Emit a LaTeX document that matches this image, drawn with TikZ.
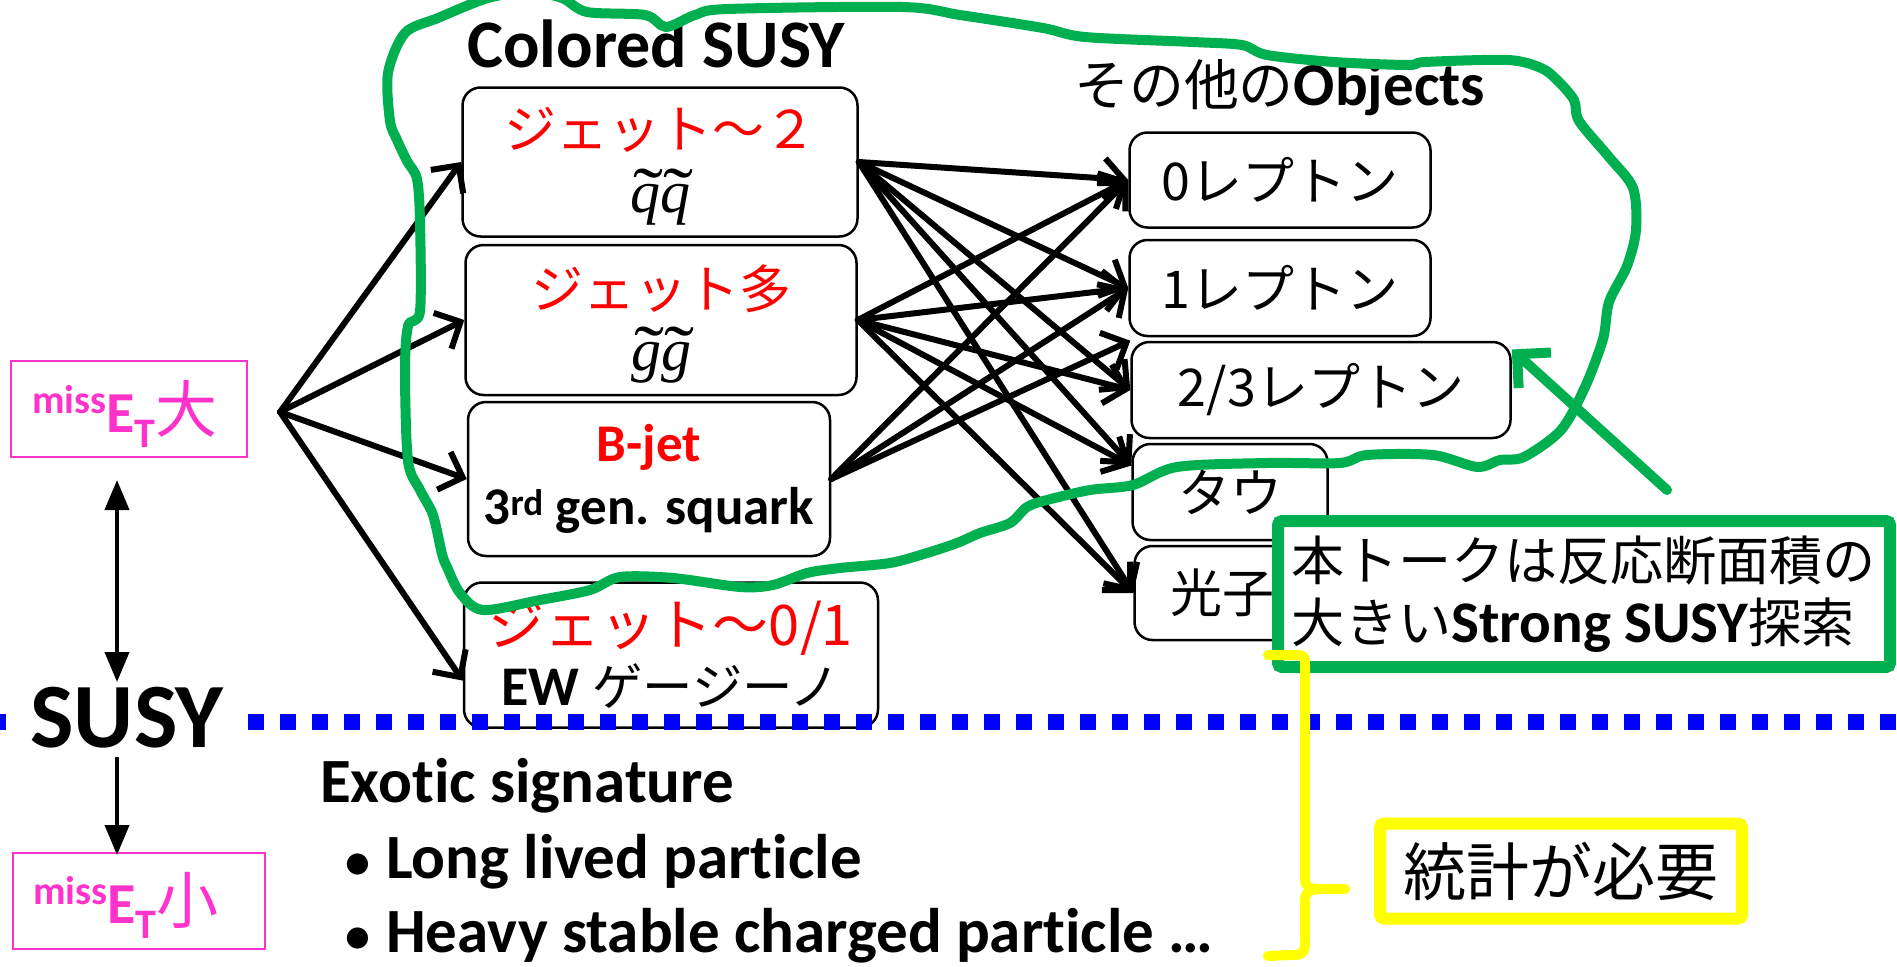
\documentclass[tikz,border=0pt]{standalone}
\usepackage{graphicx}
\usepackage{fontspec}
\setmainfont{Carlito}[Ligatures=NoCommon]
\newfontfamily\jp{Noto Sans CJK JP}
\newfontfamily\jpm{Noto Sans CJK JP}[Scale=0.9]
\newfontfamily\serif{Liberation Serif}
\usetikzlibrary{arrows.meta}

\definecolor{metpink}{RGB}{255,51,204}
\definecolor{gloop}{RGB}{0,176,80}
\definecolor{ylw}{RGB}{255,255,0}

\newcommand{\fs}[1]{\fontsize{#1}{#1}\selectfont}
% missing E_T label
\newcommand{\metlabel}[1]{\bfseries\raisebox{19pt}{\fs{40}miss}{\fs{58}E}\raisebox{-15pt}{\fs{42}T}{\jp\mdseries\fs{62}#1}}
% sparticle with a wide tilde
\newcommand{\spart}[1]{\ooalign{\serif\itshape #1\cr\hidewidth\kern0.12em\raisebox{-0.08em}{\scalebox{1.5}[1.2]{\serif\char"02DC}}\hidewidth\cr}}

\begin{document}
\begin{tikzpicture}[x=1pt, y=-1pt,
    barb/.tip={Straight Barb[length=20pt,width=40pt]},
    tri/.tip={Triangle[length=30pt,width=24pt]},
    box/.style={draw, line width=2.5pt, rounded corners=18pt, inner sep=0pt, align=center},
    metbox/.style={draw=metpink, line width=2pt, inner sep=0pt, minimum height=96pt},
    txt/.style={inner sep=0pt, anchor=base west},
    flow/.style={line width=6pt, line cap=round, -barb},
    vert/.style={line width=4pt, -tri},
    hand/.style={draw=gloop, line width=10pt, line cap=round, line join=round}
  ]
  \useasboundingbox (0,0) rectangle (1897,966);

  % --- MET boxes ---
  \node[metbox, minimum width=236pt] (metbig) at (129,409) {};
  \node[txt, text=metpink] (metbigtxt) at (32,432) {\metlabel{大}};
  \node[metbox, minimum width=252pt] (metsmall) at (139,901) {};
  \node[txt, text=metpink] (metsmalltxt) at (33,923) {\metlabel{小}};

  % --- Colored SUSY ---
  \node[txt, font=\bfseries\fs{68}] (colored) at (467,67) {Colored SUSY};
  \node[box, minimum width=395pt, minimum height=149pt, font=\jp\fontsize{52}{64}\selectfont] (sq) at (660,162)
    {\textcolor{red}{ジェット～２}\\{\fs{60}\spart{q}\spart{q}}};
  \node[box, minimum width=391pt, minimum height=150pt, font=\jp\fontsize{52}{62}\selectfont] (gl) at (661,320)
    {\textcolor{red}{ジェット多}\\{\fs{60}\spart{g}\spart{g}}};
  \node[box, minimum width=362pt, minimum height=154pt, font=\bfseries\fontsize{53}{63}\selectfont] (bjet) at (649,479)
    {\textcolor{red}{B-jet}\\3\textsuperscript{rd} gen. squark};
  \node[box, minimum width=414pt, minimum height=145pt, font=\fontsize{56}{60}\selectfont] (ew) at (671,655)
    {\textcolor{red}{\jp ジェット～0/1}\\\textbf{EW} {\jpm ゲージーノ}};

  % --- other objects ---
  \node[txt, font=\fs{61}] (others) at (1074,105) {{\jpm その他の}\textbf{Objects}};
  \node[box, minimum width=301pt, minimum height=95pt, font=\jp\fs{52}] (lep0) at (1280,180) {0レプトン};
  \node[box, minimum width=301pt, minimum height=96pt, font=\jp\fs{52}] (lep1) at (1280,288) {1レプトン};
  \node[box, minimum width=379pt, minimum height=96pt, font=\jp\fs{52}] (lep23) at (1321,390) {2/3レプトン};
  \node[box, minimum width=195pt, minimum height=96pt, font=\jp\fs{52}] (tau) at (1230,492) {タウ};
  \node[box, minimum width=175pt, minimum height=94pt, font=\jp\fs{52}] (pho) at (1222,593) {光子};

  % --- arrows ---
  \coordinate (fanpt) at (280,412);
  \foreach \b/\a in {sq/180, gl/180, bjet/180, ew/187}
    \draw[flow] (fanpt) -- (\b.\a);
  \foreach \s in {sq, gl}
    \foreach \t/\a in {lep0/west, lep1/west, lep23/west, tau/165, pho/west}
      \draw[flow] (\s.east) -- (\t.\a);
  \foreach \t/\a in {lep0/west, lep1/west, lep23/north west}
    \draw[flow] (bjet.east) -- (\t.\a);

  % --- SUSY line ---
  \draw[blue, line width=16pt, dash pattern=on 16pt off 16pt, dash phase=8pt] (0,722) -- (1897,722);
  \node[fill=white, inner xsep=24pt, inner ysep=4pt, anchor=base, font=\bfseries\fs{92}] (susy) at (127,747) {SUSY};
  \coordinate (bigtip) at (117,480);
  \coordinate (susytop) at (117,682);
  \coordinate (susybot) at (117,757);
  \coordinate (smalltip) at (117,855);
  \draw[vert, tri-tri] (bigtip) -- (susytop);
  \draw[vert] (susybot) -- (smalltip);

  % --- Exotic ---
  \node[txt, font=\bfseries\fs{63}] (exotic) at (320,802) {Exotic signature};
  \node[txt, font=\bfseries\fs{63}] (llp) at (345,878) {\makebox[41pt][l]{\fs{50}\textbullet}Long lived particle};
  \node[txt, font=\bfseries\fs{63}] (hscp) at (345,952) {\makebox[41pt][l]{\fs{50}\textbullet}Heavy stable charged particle …};

  % --- hand drawn loop ---
  \draw[hand] plot[smooth cycle, tension=0.5] coordinates {
    (390,121) (388,73) (405,33) (438,18) (488,-2) (530,-8) (562,-2) (587,12) (645,15) (666,27)
    (695,15) (728,9) (902,7) (960,15) (1043,28) (1085,37) (1193,42) (1242,45) (1267,55) (1334,62)
    (1408,65) (1425,62) (1508,60) (1541,68) (1557,80) (1574,100) (1579,121) (1609,157) (1633,188)
    (1636,230) (1627,266) (1609,302) (1603,339) (1585,387) (1561,430) (1524,457) (1500,460)
    (1477,467) (1433,455) (1367,455) (1340,463) (1267,463) (1177,467) (1133,485) (1090,490)
    (1047,500) (1027,507) (1010,523) (980,533) (957,543) (927,553) (890,563) (840,568) (807,573)
    (773,585) (740,587) (673,578) (620,577) (590,590) (540,600) (483,610) (460,593) (447,567)
    (442,554) (433,515) (420,490) (408,461) (405,372) (408,326) (420,311) (420,222) (417,179)
    (407,161) (397,140)};

  % --- talk scope ---
  \node[draw=gloop, line width=12pt, fill=white, rounded corners=4pt, minimum width=612pt, minimum height=146pt,
        align=left, font=\fontsize{59}{62}\selectfont] (talk) at (1584,594)
    {{\jpm 本トークは反応断面積の}\\{\jpm 大きい}\textbf{Strong SUSY}{\jpm 探索}};
  \coordinate (gtail) at (1667,490);
  \draw[hand, -{Straight Barb[length=24pt,width=48pt]}] (gtail) -- (lep23.12);

  % --- statistics brace ---
  \draw[ylw, line width=10pt, line cap=round, line join=round]
    (1268,655) -- (1292,655) .. controls (1305,655) and (1305,655) .. (1305,668) -- (1305,878)
    .. controls (1305,888) and (1310,889) .. (1322,889) -- (1345,889);
  \draw[ylw, line width=10pt, line cap=round, line join=round]
    (1322,889) .. controls (1310,889) and (1305,892) .. (1305,900) -- (1305,942)
    .. controls (1305,955) and (1300,955) .. (1290,955) -- (1268,956);
  \node[draw=ylw, line width=12pt, rounded corners=4pt, minimum width=362pt, minimum height=95pt,
        font=\jp\fs{63}] (stat) at (1561,871) {統計が必要};
\end{tikzpicture}
\end{document}
